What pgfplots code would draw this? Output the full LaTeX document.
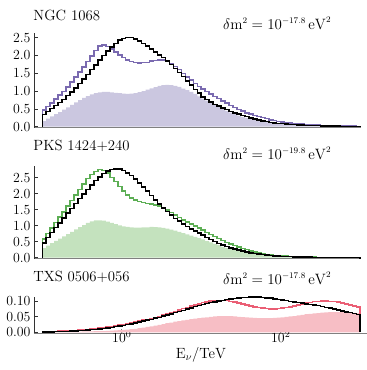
\RequirePackage{fix-cm}
\documentclass[border=0pt]{standalone}
\usepackage{pgfplots}
\pgfplotsset{compat=1.18}
\usepackage{pgfplotstable}
\DeclareMathSizes{15}{15}{8.6}{7}
\definecolor{purp}{RGB}{122,106,176}
\definecolor{purpfill}{RGB}{203,199,224}
\definecolor{grn}{RGB}{92,174,84}
\definecolor{grnfill}{RGB}{196,226,190}
\definecolor{rd}{RGB}{234,94,116}
\definecolor{rdfill}{RGB}{247,190,197}

\pgfplotstableread{
L k c f
-1.00 0 0 0
-1.00 0.34 0.47 0.155
-0.95 0.43 0.57 0.225
-0.90 0.51 0.67 0.29
-0.85 0.59 0.78 0.35
-0.80 0.68 0.885 0.41
-0.75 0.77 0.995 0.48
-0.70 0.87 1.12 0.545
-0.65 0.98 1.25 0.615
-0.60 1.09 1.39 0.68
-0.55 1.21 1.53 0.75
-0.50 1.34 1.675 0.81
-0.45 1.47 1.825 0.86
-0.40 1.60 1.98 0.91
-0.35 1.73 2.14 0.94
-0.30 1.87 2.27 0.965
-0.25 2.00 2.30 0.975
-0.20 2.12 2.255 0.975
-0.15 2.24 2.185 0.965
-0.10 2.34 2.105 0.95
-0.05 2.43 2.015 0.94
0.00 2.48 1.94 0.93
0.05 2.50 1.88 0.92
0.10 2.50 1.835 0.93
0.15 2.46 1.805 0.94
0.20 2.41 1.79 0.97
0.25 2.34 1.80 1.00
0.30 2.26 1.81 1.04
0.35 2.18 1.84 1.08
0.40 2.10 1.86 1.115
0.45 2.02 1.87 1.145
0.50 1.94 1.87 1.165
0.55 1.85 1.84 1.175
0.60 1.75 1.78 1.17
0.65 1.64 1.69 1.15
0.70 1.52 1.60 1.12
0.75 1.41 1.50 1.07
0.80 1.29 1.40 1.025
0.85 1.17 1.31 0.975
0.90 1.05 1.22 0.92
0.95 0.94 1.13 0.85
1.00 0.84 1.055 0.79
1.05 0.76 0.985 0.73
1.10 0.69 0.92 0.67
1.15 0.63 0.85 0.61
1.20 0.575 0.79 0.55
1.25 0.525 0.72 0.50
1.30 0.48 0.66 0.445
1.35 0.43 0.59 0.395
1.40 0.39 0.535 0.35
1.45 0.35 0.485 0.31
1.50 0.31 0.44 0.275
1.55 0.28 0.39 0.245
1.60 0.245 0.35 0.22
1.65 0.215 0.32 0.19
1.70 0.19 0.285 0.17
1.75 0.16 0.255 0.15
1.80 0.141 0.225 0.13
1.85 0.124 0.195 0.118
1.90 0.109 0.17 0.104
1.95 0.096 0.15 0.091
2.00 0.085 0.132 0.080
2.05 0.075 0.118 0.070
2.10 0.066 0.10 0.062
2.15 0.059 0.088 0.055
2.20 0.052 0.076 0.050
2.25 0.045 0.069 0.045
2.30 0.040 0.061 0.040
2.35 0.035 0.054 0.035
2.40 0.030 0.0475 0.031
2.45 0.027 0.0425 0.028
2.50 0.0235 0.0375 0.0245
2.55 0.0205 0.0325 0.0215
2.60 0.018 0.0285 0.019
2.65 0.016 0.0255 0.017
2.70 0.014 0.0225 0.015
2.75 0.012 0.0195 0.013
2.80 0.010 0.017 0.011
2.85 0.009 0.015 0.010
2.90 0.0075 0.013 0.0085
2.95 0.0065 0.011 0.0075
3.00 0.0065 0.011 0.0075
3.00 0 0 0
}\topdata

\pgfplotstableread{
L k c f
-1.00 0 0 0
-1.00 0.465 0.59 0.30
-0.95 0.635 0.76 0.38
-0.90 0.79 0.93 0.455
-0.85 0.94 1.10 0.525
-0.80 1.09 1.265 0.595
-0.75 1.24 1.435 0.665
-0.70 1.395 1.61 0.74
-0.65 1.545 1.79 0.81
-0.60 1.695 1.965 0.885
-0.55 1.845 2.135 0.955
-0.50 1.99 2.30 1.02
-0.45 2.13 2.47 1.09
-0.40 2.27 2.60 1.135
-0.35 2.41 2.69 1.165
-0.30 2.53 2.76 1.17
-0.25 2.63 2.73 1.16
-0.20 2.71 2.64 1.13
-0.15 2.76 2.51 1.09
-0.10 2.78 2.375 1.05
-0.05 2.77 2.225 1.01
0.00 2.725 2.09 0.98
0.05 2.655 1.96 0.96
0.10 2.565 1.87 0.95
0.15 2.455 1.80 0.94
0.20 2.34 1.755 0.94
0.25 2.21 1.725 0.95
0.30 2.08 1.70 0.95
0.35 1.95 1.68 0.96
0.40 1.81 1.65 0.955
0.45 1.68 1.61 0.945
0.50 1.55 1.555 0.93
0.55 1.44 1.485 0.91
0.60 1.33 1.41 0.88
0.65 1.23 1.33 0.85
0.70 1.14 1.25 0.81
0.75 1.05 1.18 0.77
0.80 0.97 1.11 0.73
0.85 0.90 1.05 0.69
0.90 0.83 0.99 0.65
0.95 0.77 0.93 0.61
1.00 0.705 0.865 0.57
1.05 0.635 0.795 0.52
1.10 0.57 0.73 0.48
1.15 0.50 0.66 0.43
1.20 0.445 0.60 0.39
1.25 0.395 0.54 0.34
1.30 0.35 0.48 0.30
1.35 0.31 0.43 0.27
1.40 0.27 0.38 0.235
1.45 0.24 0.33 0.205
1.50 0.205 0.29 0.18
1.55 0.175 0.25 0.15
1.60 0.15 0.21 0.13
1.65 0.13 0.18 0.114
1.70 0.111 0.149 0.099
1.75 0.094 0.126 0.086
1.80 0.079 0.106 0.075
1.85 0.066 0.089 0.064
1.90 0.056 0.075 0.054
1.95 0.049 0.065 0.047
2.00 0.042 0.056 0.040
2.05 0.037 0.049 0.035
2.10 0.032 0.042 0.030
2.15 0.027 0.035 0.025
2.20 0.0235 0.030 0.022
2.25 0.0205 0.026 0.019
2.30 0.018 0.0225 0.017
2.35 0.015 0.0195 0.014
2.40 0.013 0.017 0.012
2.45 0.012 0.014 0.011
2.50 0.010 0.012 0.009
2.55 0.009 0.011 0.008
2.60 0.0076 0.0095 0.0066
2.65 0.0069 0.0085 0.0059
2.70 0.0061 0.0075 0.0051
2.75 0.0054 0.0065 0.0044
2.80 0.0048 0.0056 0.0038
2.85 0.0043 0.0049 0.0033
2.90 0.0038 0.0041 0.0028
2.95 0.0033 0.0034 0.0023
3.00 0.0033 0.0034 0.0023
3.00 0 0 0
}\middata

\pgfplotstableread{
L k c f
-1.00 0 0 0
-1.00 0.0011 0.0013 0.0006
-0.95 0.0014 0.0018 0.0007
-0.90 0.0016 0.0023 0.0008
-0.85 0.0019 0.0028 0.0009
-0.80 0.0023 0.0034 0.0011
-0.75 0.0028 0.0041 0.0014
-0.70 0.0033 0.0049 0.0016
-0.65 0.0038 0.0056 0.0019
-0.60 0.0045 0.0065 0.0021
-0.55 0.0055 0.0075 0.0024
-0.50 0.0065 0.0085 0.0026
-0.45 0.0075 0.0095 0.0029
-0.40 0.0085 0.011 0.0031
-0.35 0.0095 0.012 0.0034
-0.30 0.0108 0.014 0.0036
-0.25 0.0123 0.015 0.0039
-0.20 0.014 0.017 0.0044
-0.15 0.016 0.019 0.0051
-0.10 0.018 0.021 0.0059
-0.05 0.020 0.023 0.0066
0.00 0.022 0.025 0.0076
0.05 0.025 0.028 0.0089
0.10 0.027 0.030 0.010
0.15 0.030 0.033 0.011
0.20 0.0325 0.0355 0.013
0.25 0.0355 0.0385 0.015
0.30 0.0385 0.0415 0.017
0.35 0.0415 0.0445 0.019
0.40 0.045 0.048 0.021
0.45 0.048 0.051 0.024
0.50 0.052 0.055 0.026
0.55 0.055 0.058 0.029
0.60 0.059 0.062 0.031
0.65 0.063 0.067 0.034
0.70 0.067 0.071 0.036
0.75 0.070 0.076 0.038
0.80 0.074 0.080 0.040
0.85 0.078 0.084 0.042
0.90 0.082 0.088 0.044
0.95 0.085 0.091 0.045
1.00 0.0885 0.0945 0.047
1.05 0.0915 0.0975 0.048
1.10 0.0945 0.100 0.0495
1.15 0.0975 0.101 0.0505
1.20 0.100 0.102 0.0513
1.25 0.102 0.102 0.0518
1.30 0.104 0.101 0.0518
1.35 0.106 0.099 0.0513
1.40 0.108 0.0965 0.0505
1.45 0.109 0.0935 0.0495
1.50 0.1105 0.0905 0.0485
1.55 0.1115 0.0875 0.0475
1.60 0.112 0.0845 0.0466
1.65 0.112 0.0815 0.0459
1.70 0.112 0.079 0.0454
1.75 0.111 0.077 0.0451
1.80 0.110 0.0755 0.0451
1.85 0.109 0.0745 0.0454
1.90 0.107 0.0745 0.0459
1.95 0.105 0.0755 0.0466
2.00 0.103 0.077 0.048
2.05 0.101 0.079 0.049
2.10 0.099 0.0815 0.051
2.15 0.097 0.0845 0.052
2.20 0.095 0.0875 0.054
2.25 0.093 0.0905 0.056
2.30 0.091 0.0935 0.058
2.35 0.089 0.0955 0.059
2.40 0.087 0.098 0.0605
2.45 0.085 0.099 0.0615
2.50 0.083 0.100 0.0625
2.55 0.080 0.100 0.0635
2.60 0.0775 0.099 0.0641
2.65 0.0745 0.098 0.0644
2.70 0.0715 0.096 0.0644
2.75 0.0685 0.093 0.0641
2.80 0.0655 0.0905 0.0636
2.85 0.0625 0.0875 0.0629
2.90 0.0595 0.084 0.0621
2.95 0.0565 0.081 0.0614
3.00 0.0565 0.081 0.0614
3.00 0 0 0
}\botdata

\pgfplotsset{
  panel/.style={
    scale only axis, width=327pt, xmin=-1.104, xmax=3.01,
    axis x line*=bottom, axis y line*=left,
    x axis line style={-, draw=gray, line width=1.3pt},
    y axis line style={-, draw=black!80, line width=0.8pt},
    tick align=inside, major tick length=4pt,
    xtick style={draw=gray, line width=0.9pt},
    ytick style={draw=black!80, line width=0.8pt},
    ticklabel style={font=\fontsize{13.9}{16}\selectfont},
    xtick=\empty,
  },
  hist/.style={const plot, no marks, line width=1.5pt},
  fillh/.style={const plot, no marks, draw=none},
}
\newcommand{\tfont}{\fontsize{14.8}{17}\selectfont}
\newcommand{\afont}{\fontsize{15}{18}\selectfont}

\begin{document}
\begin{tikzpicture}
\path[use as bounding box] (0pt,0pt) rectangle (367pt,-370pt);

\begin{axis}[panel, at={(34pt,-127.7pt)}, anchor=south west, height=94.7pt,
  ymin=-0.028, ymax=2.632, ytick={0,0.5,1,1.5,2,2.5},
  yticklabel style={/pgf/number format/.cd, fixed, fixed zerofill, precision=1}]
\addplot[fillh, fill=purpfill] table[x=L, y=f] {\topdata} \closedcycle;
\addplot[hist, purp] table[x=L, y=c] {\topdata};
\addplot[hist, black] table[x=L, y=k] {\topdata};
\end{axis}

\begin{axis}[panel, at={(34pt,-258.5pt)}, anchor=south west, height=92.5pt,
  ymin=-0.025, ymax=2.866, ytick={0,0.5,1,1.5,2,2.5},
  yticklabel style={/pgf/number format/.cd, fixed, fixed zerofill, precision=1}]
\addplot[fillh, fill=grnfill] table[x=L, y=f] {\middata} \closedcycle;
\addplot[hist, grn] table[x=L, y=c] {\middata};
\addplot[hist, black] table[x=L, y=k] {\middata};
\end{axis}

\begin{axis}[panel, at={(34pt,-333.3pt)}, anchor=south west, height=36.6pt,
  width=333pt, xmax=3.085,
  ymin=-0.0032, ymax=0.1137, ytick={0,0.05,0.1},
  yticklabel style={/pgf/number format/.cd, fixed, fixed zerofill, precision=2},
  xtick={0,2}, xticklabels={$10^{0}$,$10^{2}$},
  xticklabel style={anchor=base, yshift=-9pt}]
\addplot[fillh, fill=rdfill] table[x=L, y=f] {\botdata} \closedcycle;
\addplot[hist, rd] table[x=L, y=c] {\botdata};
\addplot[hist, black] table[x=L, y=k] {\botdata};
\end{axis}

\node[anchor=base west, inner sep=0pt, font=\tfont] at (33.3pt,-20pt) {NGC 1068};
\node[anchor=base west, inner sep=0pt, font=\tfont] at (33.3pt,-150pt) {PKS 1424+240};
\node[anchor=base west, inner sep=0pt, font=\tfont] at (33.3pt,-281.5pt) {TXS 0506+056};
\node[anchor=base west, inner sep=0pt, font=\afont] at (223pt,-29pt) {$\delta\mathrm{m}^2 = 10^{-17.8}\,\mathrm{eV}^2$};
\node[anchor=base west, inner sep=0pt, font=\afont] at (223pt,-159pt) {$\delta\mathrm{m}^2 = 10^{-19.8}\,\mathrm{eV}^2$};
\node[anchor=base west, inner sep=0pt, font=\afont] at (223pt,-284pt) {$\delta\mathrm{m}^2 = 10^{-17.8}\,\mathrm{eV}^2$};
\node[anchor=base, inner sep=0pt, font=\tfont] at (201pt,-358pt) {$\mathrm{E}_\nu/\mathrm{TeV}$};
\end{tikzpicture}
\end{document}
